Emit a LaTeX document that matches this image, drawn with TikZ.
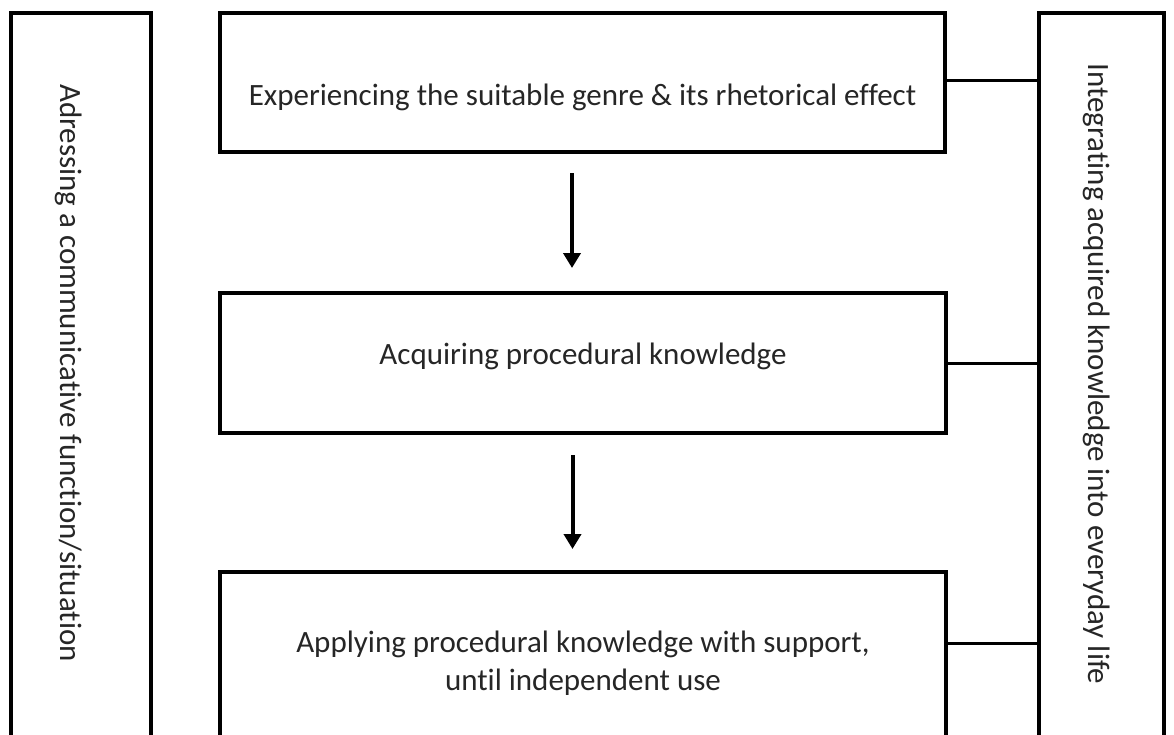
\documentclass[tikz,border=0pt]{standalone}
\usepackage{fontspec}
\setmainfont[Ligatures={NoCommon}]{Carlito}
\usetikzlibrary{arrows.meta}
\begin{document}
\begin{tikzpicture}[x=1pt,y=-1pt,
  boxnode/.style={draw=black, line width=4.5pt, rectangle, outer sep=0pt, inner sep=0pt, anchor=north west},
  txt/.style={font=\fontsize{31}{38}\selectfont, text=black!85, align=center, inner sep=0pt},
  conn/.style={draw=black, line width=3pt},
  arr/.style={draw=black, line width=4pt, -{Triangle[width=17pt,length=15pt]}}]
\useasboundingbox (0,0) rectangle (1174,734);
\clip (0,0) rectangle (1174,734);
\fill[white] (0,0) rectangle (1174,734);
% boxes
\node[boxnode, minimum width=140pt, minimum height=732pt] (left) at (11,13) {};
\node[boxnode, minimum width=125pt, minimum height=732pt] (right) at (1039,13) {};
\node[boxnode, minimum width=725pt, minimum height=139pt] (top) at (220,13) {};
\node[boxnode, minimum width=726pt, minimum height=140pt] (mid) at (220,293) {};
\node[boxnode, minimum width=726pt, minimum height=173pt] (bot) at (220,572) {};
% texts
\node[txt, rotate=-90] (lefttxt) at (69,373) {Adressing a communicative function/situation};
\node[txt, rotate=-90] (righttxt) at (1097,374) {Integrating acquired knowledge into everyday life};
\node[txt] (toptxt) at ([yshift=-15pt]top.center) {Experiencing the suitable genre \& its rhetorical effect};
\node[txt] (midtxt) at ([yshift=7pt]mid.center) {Acquiring procedural knowledge};
\node[txt] (bottxt) at (583,663) {Applying procedural knowledge with support,\\until independent use};
% arrows
\draw[arr, shorten <=21pt, shorten >=25pt] ([xshift=-10.5pt]top.south) -- ([xshift=-10.5pt]top.south |- mid.north);
\draw[arr, shorten <=22pt, shorten >=23pt] ([xshift=-10.5pt]mid.south) -- ([xshift=-10.5pt]mid.south |- bot.north);
% connectors to right box
\draw[conn] ([yshift=2.5pt]top.east) -- ([yshift=2.5pt]top.east -| right.west);
\draw[conn] (mid.east) -- (mid.east -| right.west);
\path (bot.north east) ++(0,71) coordinate (b3);
\draw[conn] (b3) -- (b3 -| right.west);
\end{tikzpicture}
\end{document}
